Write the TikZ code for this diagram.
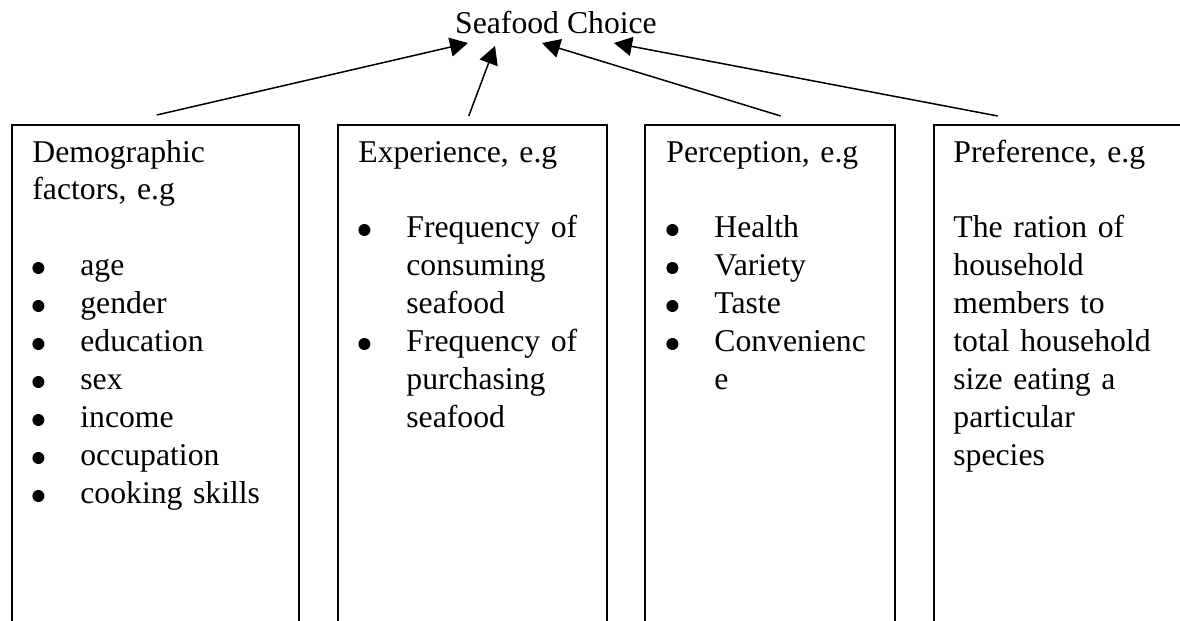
\documentclass[tikz,border=0pt]{standalone}
\usepackage{fontspec}
\setmainfont{Liberation Serif}
\usetikzlibrary{arrows.meta}
\tikzset{
  factorbox/.style={draw, line width=0.75pt, minimum height=260pt, anchor=north west, inner sep=0pt},
  factortext/.style={anchor=base west, inner sep=0pt, text width=130pt, align=left, font=\fontsize{15.85pt}{19pt}\selectfont},
  influence/.style={line width=0.75pt, -{Triangle[length=9pt,width=9.5pt]}}
}
\newcommand{\bul}{\makebox[24pt][l]{\tikz[baseline=-4pt]\fill (3pt,0pt) circle (3pt);}}
\newcommand{\cont}{\hspace*{24pt}}

\begin{document}
\begin{tikzpicture}[x=0.5pt,y=-0.5pt]
            \useasboundingbox (0,0) rectangle (1180,621);
            \clip (0,0) rectangle (1180,621);
            \node[font=\fontsize{15.85pt}{19pt}\selectfont, anchor=base, inner sep=0pt] (choice) at (556,33) {Seafood Choice};
            \node[factorbox, minimum width=143.5pt] (demo)   at ( 11,124) {};
            \node[factorbox, minimum width=134.5pt] (exper)  at (337,124) {};
            \node[factorbox, minimum width=125pt]   (percep) at (644,124) {};
            \node[factorbox, minimum width=150pt]   (prefer) at (933,124) {};
            \node[factortext] (demotext)   at ( 32,162) {Demographic\\factors, e.g\\[19pt]\bul age\\\bul gender\\\bul education\\\bul sex\\\bul income\\\bul occupation\\\bul cooking skills};
            \node[factortext] (expertext)  at (358,162) {Experience, e.g\\[19pt]\bul Frequency of\\\cont consuming\\\cont seafood\\\bul Frequency of\\\cont purchasing\\\cont seafood};
            \node[factortext] (perceptext) at (666,162) {Perception, e.g\\[19pt]\bul Health\\\bul Variety\\\bul Taste\\\bul Convenienc\\\cont e};
            \node[factortext] (prefertext) at (953,162) {Preference, e.g\\[19pt]The ration of\\household\\members to\\total household\\size eating a\\particular\\species};
            \draw[influence] ([xshift=0.75pt,yshift=4.5pt]demo.north)  -- ([xshift=-44pt,yshift=-5pt]choice.base);
            \draw[influence] ([xshift=-1.75pt,yshift=4pt]exper.north)  -- ([xshift=-30.5pt,yshift=-6.5pt]choice.base);
            \draw[influence] ([xshift=5.5pt,yshift=4pt]percep.north)   -- ([xshift=-7pt,yshift=-5pt]choice.base);
            \draw[influence] ([xshift=-43pt,yshift=4pt]prefer.north)   -- ([xshift=29pt,yshift=-5pt]choice.base);
\end{tikzpicture}
\end{document}
